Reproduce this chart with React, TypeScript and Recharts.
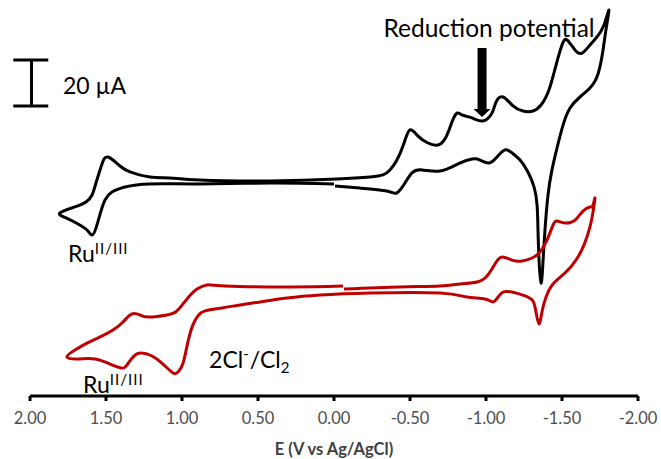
import React from 'react';
import { LineChart, Line, XAxis, YAxis, ReferenceLine, ReferenceDot } from 'recharts';

// Potential (V vs Ag/AgCl) and current (µA, offset) for the upper voltammogram
const blackE = [
  -0.007, -0.171, -0.349, -0.414, -0.467, -0.513, -0.579, -0.697, -0.816, -0.908,
  -0.961, -1.020, -1.072, -1.125, -1.171, -1.224, -1.276, -1.316, -1.336, -1.342,
  -1.349, -1.362, -1.375, -1.388, -1.408, -1.434, -1.467, -1.507, -1.553, -1.618,
  -1.684, -1.737, -1.770, -1.789, -1.809, -1.776, -1.730, -1.684, -1.632, -1.586,
  -1.533, -1.500, -1.461, -1.414, -1.362, -1.309, -1.243, -1.178, -1.112, -1.066,
  -1.039, -0.980, -0.908, -0.842, -0.809, -0.776, -0.737, -0.684, -0.618, -0.553,
  -0.500, -0.461, -0.414, -0.368, -0.322, -0.237, -0.020, 0.421, 0.882, 1.079,
  1.211, 1.342, 1.408, 1.454, 1.487, 1.513, 1.539, 1.566, 1.592, 1.632,
  1.704, 1.803, 1.763, 1.684, 1.625, 1.592, 1.566, 1.539, 1.507, 1.461,
  1.375, 1.211, 0.882, 0.421, 0.000,
];
const blackI = [
  91.3, 90.4, 89.1, 88.3, 92.6, 97.0, 98.3, 97.8, 100.9, 103.0,
  102.6, 101.3, 103.9, 107.0, 105.7, 102.6, 97.4, 90.9, 83.0, 72.2,
  59.1, 49.1, 58.3, 72.2, 87.4, 98.3, 107.8, 117.8, 125.2, 130.0,
  133.9, 140.0, 150.4, 159.1, 167.8, 161.3, 156.1, 152.6, 149.1, 150.4,
  154.8, 152.6, 143.9, 133.0, 126.5, 123.9, 123.9, 126.1, 130.0, 127.8,
  123.0, 119.6, 120.9, 122.2, 123.0, 119.1, 112.6, 109.1, 110.0, 113.0,
  115.7, 110.0, 102.6, 98.3, 96.1, 95.2, 94.3, 93.5, 93.9, 94.8,
  95.2, 97.4, 100.0, 102.6, 103.9, 103.0, 98.3, 92.6, 87.4, 84.3,
  82.2, 79.6, 77.4, 74.8, 72.2, 70.0, 73.0, 79.1, 85.2, 88.7,
  90.9, 92.2, 92.2, 92.6, 92.2,
];

// Potential and current for the lower (red) voltammogram
const redE = [
  -0.066, -0.434, -0.697, -0.829, -0.941, -1.007, -1.059, -1.105, -1.171, -1.237,
  -1.303, -1.355, -1.401, -1.441, -1.467, -1.520, -1.586, -1.638, -1.684, -1.704,
  -1.717, -1.704, -1.684, -1.645, -1.592, -1.520, -1.441, -1.395, -1.368, -1.349,
  -1.329, -1.309, -1.257, -1.171, -1.112, -1.079, -1.046, -0.993, -0.875, -0.697,
  -0.237, 0.092, 0.309, 0.487, 0.618, 0.737, 0.849, 0.895, 0.928, 0.961,
  0.993, 1.026, 1.059, 1.125, 1.197, 1.270, 1.322, 1.368, 1.401, 1.474,
  1.572, 1.684, 1.757, 1.704, 1.625, 1.539, 1.454, 1.388, 1.329, 1.276,
  1.211, 1.099, 1.033, 0.967, 0.901, 0.836, 0.717, 0.289, -0.059,
];
const redI = [
  46.5, 47.4, 47.8, 48.7, 49.6, 52.2, 57.4, 60.4, 59.1, 58.7,
  60.0, 62.6, 67.8, 74.3, 76.1, 75.2, 76.5, 80.4, 82.2, 83.0,
  86.1, 80.0, 73.5, 65.7, 59.1, 53.5, 48.7, 43.0, 36.5, 31.3,
  36.5, 41.3, 43.5, 45.2, 45.2, 43.0, 40.9, 42.2, 43.0, 44.8,
  44.8, 43.9, 42.6, 40.9, 39.6, 38.3, 37.0, 34.8, 30.9, 23.5,
  14.3, 10.4, 10.0, 13.9, 17.4, 18.7, 17.0, 13.0, 12.2, 13.9,
  16.1, 16.1, 17.0, 20.0, 23.0, 25.7, 28.7, 32.2, 35.7, 35.2,
  34.3, 35.2, 37.0, 42.2, 46.5, 48.3, 47.8, 47.4, 47.8,
];

const potentialTicks = [2, 1.5, 1, 0.5, 0, -0.5, -1, -1.5, -2];

const blackData = blackE.map((e, k) => ({ e, i: blackI[k] }));
const redData = redE.map((e, k) => ({ e, i: redI[k] }));

const FONT = 'Lato, "Open Sans", sans-serif';

const labelText = (parts: { t: string; shift?: number; size?: number }[], size = 23) =>
  (p: any) => {
    let prev = 0;
    return (
      <text x={p.cx} y={p.cy} fontFamily={FONT} fontSize={size} fill="#000">
        {parts.map((part, k) => {
          const s = part.shift ?? 0;
          const dy = s - prev;
          prev = s;
          return (
            <tspan key={k} dy={dy} fontSize={part.size ?? size} letterSpacing={part.size ? 1 : 0}>
              {part.t}
            </tspan>
          );
        })}
      </text>
    );
  };

const arrowShape = (p: any) => {
  const x = p.x1;
  const top = Math.min(p.y1, p.y2);
  const tip = Math.max(p.y1, p.y2);
  const head = 8;
  const stem = 4.5;
  const wing = 8.5;
  return (
    <polygon
      points={`${x - stem},${top} ${x + stem},${top} ${x + stem},${tip - head} ${x + wing},${tip - head} ${x},${tip} ${x - wing},${tip - head} ${x - stem},${tip - head}`}
      fill="#000"
    />
  );
};

export default function App() {
  return (
    <div style={{ position: 'absolute', left: 0, top: 0, background: '#fff' }}>
      <LineChart
        width={661}
        height={459}
        margin={{ top: 5, right: 23, left: 30, bottom: 0 }}
        style={{ fontFamily: FONT }}
      >
        <XAxis
          type="number"
          dataKey="e"
          domain={[-2, 2]}
          reversed
          ticks={potentialTicks}
          tickFormatter={(v: number) => v.toFixed(2)}
          height={63}
          axisLine={{ stroke: '#000', strokeWidth: 3 }}
          tickLine={{ stroke: '#000', strokeWidth: 3 }}
          tickSize={5}
          tickMargin={11}
          tick={{ fill: '#4d4d4d', fontSize: 16.5, fontFamily: FONT }}
          label={{
            value: 'E (V vs Ag/AgCl)',
            position: 'insideBottom',
            offset: 4,
            fill: '#404040',
            fontSize: 16.5,
            fontWeight: 700,
            fontFamily: FONT,
          }}
        />
        <YAxis hide type="number" domain={[0, 170]} />

        <Line data={blackData} dataKey="i" type="natural" stroke="#000" strokeWidth={3}
          strokeLinejoin="round" dot={false} isAnimationActive={false} />
        <Line data={redData} dataKey="i" type="natural" stroke="#C00000" strokeWidth={3}
          strokeLinejoin="round" dot={false} isAnimationActive={false} />

        {/* 20 µA scale bar */}
        <ReferenceLine segment={[{ x: 1.99, y: 126.1 }, { x: 1.99, y: 146.1 }]} stroke="#000" strokeWidth={3} ifOverflow="visible" />
        <ReferenceLine segment={[{ x: 2.11, y: 146.1 }, { x: 1.88, y: 146.1 }]} stroke="#000" strokeWidth={3} ifOverflow="visible" />
        <ReferenceLine segment={[{ x: 2.11, y: 126.1 }, { x: 1.88, y: 126.1 }]} stroke="#000" strokeWidth={3} ifOverflow="visible" />
        <ReferenceDot x={1.783} y={131.3} r={0} ifOverflow="visible" shape={labelText([{ t: '20 µA' }])} />

        {/* reduction potential marker */}
        <ReferenceDot x={-1.02} y={156.1} r={0} ifOverflow="visible"
          shape={(p: any) => (
            <text x={p.cx} y={p.cy} textAnchor="middle" fontFamily={FONT} fontSize={24.5} fill="#000">
              Reduction potential
            </text>
          )} />
        <ReferenceLine segment={[{ x: -0.974, y: 151.3 }, { x: -0.974, y: 121.3 }]} ifOverflow="visible" shape={arrowShape} />

        {/* peak assignments */}
        <ReferenceDot x={1.75} y={58.3} r={0} ifOverflow="visible"
          shape={labelText([{ t: 'Ru' }, { t: 'II/III', shift: -8, size: 15 }])} />
        <ReferenceDot x={1.651} y={1.3} r={0} ifOverflow="visible"
          shape={labelText([{ t: 'Ru' }, { t: 'II/III', shift: -8, size: 15 }])} />
        <ReferenceDot x={0.822} y={12.2} r={0} ifOverflow="visible"
          shape={labelText([
            { t: '2Cl' },
            { t: '-', shift: -9, size: 15 },
            { t: '/Cl', shift: 0 },
            { t: '2', shift: 5, size: 15 },
          ])} />
      </LineChart>
    </div>
  );
}
